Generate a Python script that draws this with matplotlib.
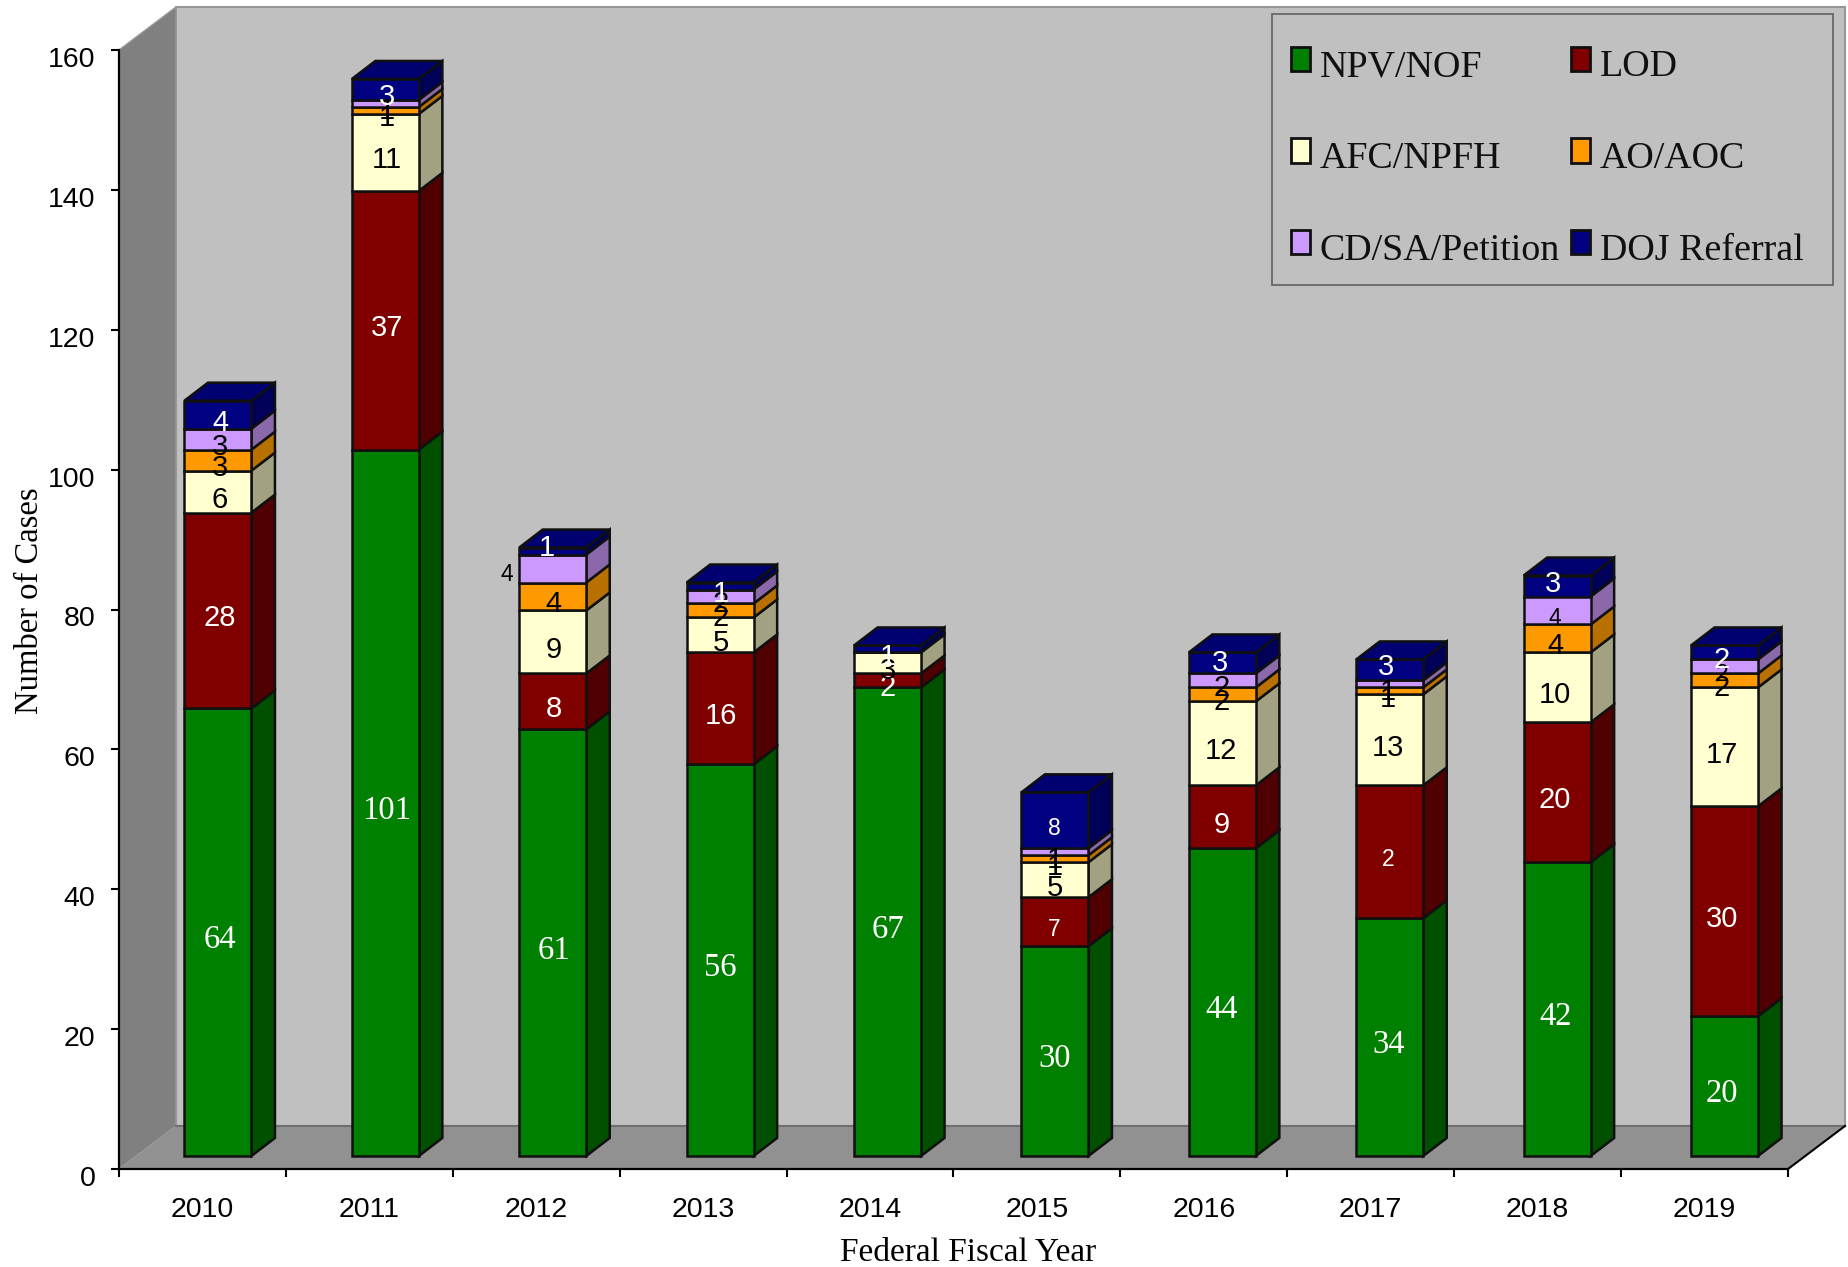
import matplotlib
matplotlib.use("Agg")
import matplotlib.pyplot as plt
from matplotlib.patches import Rectangle, Polygon
from matplotlib.transforms import ScaledTranslation
import numpy as np

years = [2010, 2011, 2012, 2013, 2014, 2015, 2016, 2017, 2018, 2019]

npv_nof = [64, 101, 61, 56, 67, 30, 44, 34, 42, 20]
lod = [28, 37, 8, 16, 2, 7, 9, 19, 20, 30]
afc_npfh = [6, 11, 9, 5, 3, 5, 12, 13, 10, 17]
ao_aoc = [3, 1, 4, 2, 0, 1, 2, 1, 4, 2]
cd_sa = [3, 1, 4, 2, 0, 1, 2, 1, 4, 2]
doj = [4, 3, 1, 1, 1, 8, 3, 3, 3, 2]

series_names = ["NPV/NOF", "LOD", "AFC/NPFH", "AO/AOC", "CD/SA/Petition", "DOJ Referral"]
series_values = [npv_nof, lod, afc_npfh, ao_aoc, cd_sa, doj]

# the 2017 LOD segment is printed as "2" in the original chart
label_override = {(2017, "LOD"): "2"}

front_colors = ["#008000", "#800000", "#FFFFD0", "#FF9900", "#CC99FF", "#000080"]
side_colors = ["#005000", "#500000", "#A2A282", "#B87000", "#8A68AA", "#000058"]
text_colors = ["white", "white", "black", "black", "black", "white"]

W, H = 1849, 1267
plt.rcParams["font.family"] = ["Liberation Sans", "DejaVu Sans"]

fig = plt.figure(figsize=(W / 100, H / 100), dpi=100)
ax = fig.add_axes([119 / W, (H - 1169) / H, 1669 / W, 1119 / H])
ax.set_xlim(0, 10)
ax.set_ylim(0, 160)
ax.patch.set_visible(False)

# size of one pixel in data units
px_x = 10 / 1669
px_y = 160 / 1119

wall_dx, wall_dy = 57 * px_x, 43 * px_y
bar_dx, bar_dy = 23.5 * px_x, 18 * px_y
bar_width = 67 * px_x
bar_shift = 15.5 * px_x
bar_step = 167.4 * px_x
floor_y = 13 * px_y


def face(points, color, edge="none", lw=0, z=1):
    ax.add_patch(Polygon(points, closed=True, facecolor=color, edgecolor=edge,
                         linewidth=lw, clip_on=False, zorder=z))


# back wall, side wall, floor
face([(wall_dx, wall_dy), (10 + wall_dx, wall_dy), (10 + wall_dx, 160 + wall_dy), (wall_dx, 160 + wall_dy)],
     "#C0C0C0", "#969696", 1.5, 1)
face([(0, 0), (wall_dx, wall_dy), (wall_dx, 160 + wall_dy), (0, 160)], "#808080", "#989898", 1, 1.2)
face([(0, 0), (10, 0), (10 + wall_dx, wall_dy), (wall_dx, wall_dy)], "#919191", "none", 0, 1.1)
ax.plot([wall_dx, 10 + wall_dx], [wall_dy, wall_dy], color="#707070", lw=1.5, clip_on=False, zorder=1.3)
ax.plot([10, 10 + wall_dx], [0, wall_dy], color="black", lw=1.5, clip_on=False, zorder=1.3)

x_pos = np.arange(len(years)) * bar_step + 0.5 + bar_shift
# the value labels keep the axis spacing, a touch narrower than the columns
label_x = np.arange(len(years)) + 0.5 + bar_shift
bottom = np.full(len(years), floor_y)
handles = []

for name, vals, fc, sc in zip(series_names, series_values, front_colors, side_colors):
    vals = np.array(vals, dtype=float)
    bars = ax.bar(x_pos, vals, bar_width, bottom=bottom, color=fc, edgecolor="#101010",
                  linewidth=1.8, zorder=3, clip_on=False, label=name)
    handles.append(bars)
    for x, b, v in zip(x_pos, bottom, vals):
        if v == 0:
            continue
        right = x + bar_width / 2
        face([(right, b), (right + bar_dx, b + bar_dy), (right + bar_dx, b + v + bar_dy), (right, b + v)],
             sc, "#101010", 1.8, 2.9)
    bottom = bottom + vals

# roof of each column
for x, top in zip(x_pos, bottom):
    left = x - bar_width / 2
    right = x + bar_width / 2
    face([(left, top), (right, top), (right + bar_dx, top + bar_dy), (left + bar_dx, top + bar_dy)],
         "#000070", "#101010", 1.8, 3.1)

# value labels: pixel nudges for the ones that sit off the segment centre
nudge = {
    (2012, "DOJ Referral"): (-5, -3),
    (2012, "CD/SA/Petition"): (-45, 6),
    (2016, "DOJ Referral"): (1, 0),
    (2017, "DOJ Referral"): (0, -3),
    (2018, "DOJ Referral"): (0, -2),
}
small = {(2012, "CD/SA/Petition"), (2015, "LOD"), (2015, "DOJ Referral"), (2017, "LOD"),
         (2018, "CD/SA/Petition"), (2019, "CD/SA/Petition")}

bottom = np.full(len(years), floor_y)
for name, vals, tc in zip(series_names, series_values, text_colors):
    vals = np.array(vals, dtype=float)
    for yr, x, b, v in zip(years, label_x, bottom, vals):
        if v == 0:
            continue
        key = (yr, name)
        dx, dy = nudge.get(key, (2, 8))
        txt = label_override.get(key, str(int(v)))
        size = 16.5 if key in small else 21
        fam = "Liberation Sans"
        if name == "NPV/NOF":
            fam = "Liberation Serif"
            size = 23.5
        # pixels to points at dpi 100
        ax.annotate(txt, (x, b + v / 2), xytext=(dx * 0.72, -dy * 0.72), textcoords="offset points",
                    ha="center", va="center", color=tc, fontsize=size, family=fam, zorder=5,
                    annotation_clip=False)
    bottom = bottom + vals

# axes
for side in ["top", "right"]:
    ax.spines[side].set_visible(False)
for side in ["left", "bottom"]:
    ax.spines[side].set_linewidth(1.6)
    ax.spines[side].set_zorder(4)

ax.set_yticks(np.arange(0, 161, 20))
ax.tick_params(axis="y", length=6, width=1.5, labelsize=20.5, pad=11)
shift = ScaledTranslation(0, -7 / 100, fig.dpi_scale_trans)
for lab in ax.get_yticklabels():
    lab.set_transform(lab.get_transform() + shift)

ax.set_xticks(np.arange(0, 11))
ax.set_xticklabels([])
ax.set_xticks(np.arange(len(years)) + 0.5, [str(y) for y in years], minor=True)
ax.tick_params(axis="x", which="major", length=6, width=1.5)
ax.tick_params(axis="x", which="minor", length=0, labelsize=20.5, pad=20.5)

ax.set_xlabel("Federal Fiscal Year", family="Liberation Serif", fontsize=24, va="center")
ax.xaxis.set_label_coords(0.509, -0.0745)
ax.set_ylabel("Number of Cases", family="Liberation Serif", fontsize=23.5, va="center")
ax.yaxis.set_label_coords(-0.0535, 0.5076)

# legend box and legend
ax.add_patch(Rectangle((1272 / W, (H - 285) / H), 561 / W, 271 / H, transform=fig.transFigure,
                       facecolor="#C0C0C0", edgecolor="#606060", linewidth=1.2, clip_on=False, zorder=20))
# legend fills by column, the picture reads by row
order = [0, 2, 4, 1, 3, 5]
leg = ax.legend(handles=[handles[i] for i in order], ncol=2, frameon=False, loc="upper left",
                bbox_to_anchor=(1291 / W, (H - 50) / H), bbox_transform=fig.transFigure,
                prop={"family": "Liberation Serif", "size": 27.4}, borderaxespad=0, borderpad=0,
                labelspacing=1.5, handlelength=0.5, handleheight=0.62, handletextpad=0.25,
                columnspacing=0.3)
leg.set_zorder(21)
for t in leg.get_texts():
    t.set_color("#101010")
for h in leg.legend_handles:
    h.set_y(h.get_y() + 3)
    h.set_linewidth(2)

fig.savefig("out.png", dpi=100)
